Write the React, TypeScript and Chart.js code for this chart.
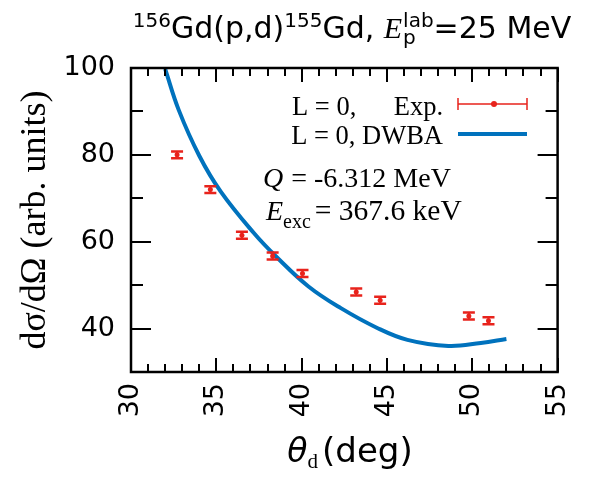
import React, { useEffect, useRef } from "react";
import { Chart, registerables } from "chart.js";

Chart.register(...registerables);

// ---- data ----
const thetaExp = [32.7, 34.65, 36.5, 38.3, 40.05, 43.2, 44.6, 49.8, 50.95];
const sigmaExp = [80.0, 72.0, 61.5, 56.7, 52.7, 48.4, 46.5, 42.9, 41.8];
const sigmaErr = [0.8, 0.8, 0.8, 0.8, 0.8, 0.8, 0.8, 0.8, 0.8];

const thetaDwba = [32.0, 32.8, 34.0, 35.25, 37.2, 38.5, 40.4, 42.3, 44.4, 46.2, 48.6, 50.5, 52.0];
const sigmaDwba = [99.8, 90.3, 79.8, 71.6, 62.0, 56.6, 49.7, 44.7, 40.2, 37.4, 36.0, 36.7, 37.6];

const xMajorTicks = [30, 35, 40, 45, 50, 55];
const yMajorTicks = [40, 60, 80, 100];
const yMinorTicks = [50, 70, 90];

const RED = "#e8231c";
const BLUE = "#0072bd";
const SANS = "'DejaVu Sans'";
const SERIF = "'Liberation Serif'";

type Part = { t: string; f: string; dy?: number; gap?: number; noAdv?: boolean };

function drawParts(ctx: CanvasRenderingContext2D, parts: Part[], x: number, y: number, align: string) {
  let total = 0;
  const widths: number[] = [];
  for (const p of parts) {
    ctx.font = p.f;
    const w = ctx.measureText(p.t).width;
    widths.push(w);
    if (!p.noAdv) total += w + (p.gap || 0);
  }
  let cx = align === "center" ? x - total / 2 : align === "right" ? x - total : x;
  ctx.textAlign = "left";
  ctx.textBaseline = "alphabetic";
  parts.forEach((p, i) => {
    ctx.font = p.f;
    ctx.fillText(p.t, cx, y + (p.dy || 0));
    if (!p.noAdv) cx += widths[i] + (p.gap || 0);
  });
}

const errorBarPlugin = {
  id: "errorBars",
  afterDatasetsDraw(chart: any) {
    const ctx = chart.ctx;
    const xs = chart.scales.x;
    const ys = chart.scales.y;
    ctx.save();
    ctx.strokeStyle = RED;
    thetaExp.forEach((t, i) => {
      const px = xs.getPixelForValue(t);
      const yTop = ys.getPixelForValue(sigmaExp[i] + sigmaErr[i]);
      const yBot = ys.getPixelForValue(sigmaExp[i] - sigmaErr[i]);
      ctx.lineWidth = 2;
      ctx.beginPath();
      ctx.moveTo(px, yTop);
      ctx.lineTo(px, yBot);
      ctx.stroke();
      ctx.lineWidth = 2.5;
      ctx.beginPath();
      ctx.moveTo(px - 6, yTop);
      ctx.lineTo(px + 6, yTop);
      ctx.moveTo(px - 6, yBot);
      ctx.lineTo(px + 6, yBot);
      ctx.stroke();
    });
    ctx.restore();
  },
};

const framePlugin = {
  id: "frame",
  afterDraw(chart: any) {
    const ctx = chart.ctx;
    const { left, right, top, bottom } = chart.chartArea;
    const xs = chart.scales.x;
    const ys = chart.scales.y;
    ctx.save();
    ctx.strokeStyle = "#000";
    ctx.lineWidth = 2;
    ctx.beginPath();
    for (let v = 30; v <= 55; v += 1) {
      const px = Math.round(xs.getPixelForValue(v));
      const len = xMajorTicks.includes(v) ? 14 : 8;
      ctx.moveTo(px, bottom);
      ctx.lineTo(px, bottom - len);
      ctx.moveTo(px, top);
      ctx.lineTo(px, top + len);
    }
    [...yMajorTicks, ...yMinorTicks].forEach((v) => {
      const py = Math.round(ys.getPixelForValue(v));
      const len = yMajorTicks.includes(v) ? 20 : 12;
      ctx.moveTo(left, py);
      ctx.lineTo(left + len, py);
      ctx.moveTo(right, py);
      ctx.lineTo(right - len, py);
    });
    ctx.stroke();
    ctx.lineWidth = 2.5;
    ctx.strokeRect(left, top, right - left, bottom - top);

    // texts
    ctx.fillStyle = "#000";
    // title
    drawParts(
      ctx,
      [
        { t: "156", f: `20px ${SANS}`, dy: -11 },
        { t: "Gd(p,d)", f: `30px ${SANS}` },
        { t: "155", f: `20px ${SANS}`, dy: -11 },
        { t: "Gd, ", f: `30px ${SANS}` },
        { t: "E", f: `italic 30px ${SERIF}`, gap: 1 },
        { t: "p", f: `20px ${SANS}`, dy: 6, noAdv: true },
        { t: "lab", f: `20px ${SANS}`, dy: -11 },
        { t: "=25 MeV", f: `30px ${SANS}` },
      ],
      352,
      38,
      "center"
    );
    // x title
    drawParts(
      ctx,
      [
        { t: "θ", f: `italic 33px ${SANS}` },
        { t: "d", f: `21px ${SERIF}`, dy: 6, gap: 4 },
        { t: "(deg)", f: `34px ${SANS}` },
      ],
      350,
      462,
      "center"
    );
    // y title
    ctx.save();
    ctx.translate(45, (top + bottom) / 2);
    ctx.rotate(-Math.PI / 2);
    ctx.font = `36px ${SERIF}`;
    ctx.textAlign = "center";
    ctx.textBaseline = "alphabetic";
    ctx.fillText("dσ/dΩ (arb. units)", 0, 0);
    ctx.restore();

    // legend
    ctx.font = `26.5px ${SERIF}`;
    ctx.textAlign = "left";
    ctx.fillText("L = 0,", 292, 115);
    ctx.textAlign = "right";
    ctx.fillText("Exp.", 443, 115);
    ctx.fillText("L = 0, DWBA", 443, 144);
    // legend samples
    ctx.strokeStyle = RED;
    ctx.lineWidth = 1.5;
    ctx.beginPath();
    ctx.moveTo(458, 104);
    ctx.lineTo(527, 104);
    ctx.moveTo(458, 98);
    ctx.lineTo(458, 110);
    ctx.moveTo(527, 98);
    ctx.lineTo(527, 110);
    ctx.stroke();
    ctx.fillStyle = RED;
    ctx.beginPath();
    ctx.arc(494, 104, 3, 0, Math.PI * 2);
    ctx.fill();
    ctx.strokeStyle = BLUE;
    ctx.lineWidth = 4;
    ctx.beginPath();
    ctx.moveTo(458, 134);
    ctx.lineTo(527, 134);
    ctx.stroke();

    // annotations
    ctx.fillStyle = "#000";
    drawParts(
      ctx,
      [
        { t: "Q", f: `italic 28px ${SERIF}`, gap: 8 },
        { t: "= -6.312 MeV", f: `28px ${SERIF}` },
      ],
      263,
      187,
      "left"
    );
    drawParts(
      ctx,
      [
        { t: "E", f: `italic 28px ${SERIF}` },
        { t: "exc", f: `20px ${SERIF}`, dy: 8, gap: 4 },
        { t: "= 367.6 keV", f: `29.5px ${SERIF}` },
      ],
      266,
      220,
      "left"
    );
    ctx.restore();
  },
};

export default function App() {
  const ref = useRef<HTMLCanvasElement | null>(null);
  useEffect(() => {
    if (!ref.current) return;
    const chart = new Chart(ref.current, {
      type: "scatter",
      data: {
        datasets: [
          {
            label: "L = 0, DWBA",
            data: thetaDwba.map((x, i) => ({ x, y: sigmaDwba[i] })),
            showLine: true,
            borderColor: BLUE,
            borderWidth: 4,
            pointRadius: 0,
            tension: 0.4,
            order: 2,
          } as any,
          {
            label: "L = 0, Exp.",
            data: thetaExp.map((x, i) => ({ x, y: sigmaExp[i] })),
            pointRadius: 2.5,
            pointBorderWidth: 0,
            backgroundColor: RED,
            borderColor: RED,
            order: 1,
          } as any,
        ],
      },
      options: {
        animation: false,
        responsive: false,
        devicePixelRatio: 1,
        layout: { padding: { left: 0, top: 68, right: 33, bottom: 0 } },
        plugins: { legend: { display: false }, tooltip: { enabled: false } },
        scales: {
          x: {
            type: "linear",
            min: 30,
            max: 55,
            grid: { display: false, drawTicks: false },
            border: { display: false },
            ticks: {
              font: { family: "DejaVu Sans", size: 27 },
              color: "#000",
              maxRotation: 90,
              minRotation: 90,
              padding: 11,
            },
            afterBuildTicks: (s: any) => {
              s.ticks = xMajorTicks.map((v) => ({ value: v }));
            },
            afterFit: (s: any) => {
              s.height = 106;
            },
          },
          y: {
            type: "linear",
            min: 30,
            max: 100,
            grid: { display: false, drawTicks: false },
            border: { display: false },
            ticks: {
              font: { family: "DejaVu Sans", size: 27 },
              color: "#000",
              padding: 16,
            },
            afterBuildTicks: (s: any) => {
              s.ticks = yMajorTicks.map((v) => ({ value: v }));
            },
            afterFit: (s: any) => {
              s.width = 131;
            },
          },
        },
      },
      plugins: [errorBarPlugin, framePlugin],
    });
    return () => chart.destroy();
  }, []);
  return (
    <div style={{ position: "fixed", left: 0, top: 0, width: 601, height: 478, background: "#fff" }}>
      <canvas ref={ref} width={601} height={478} style={{ display: "block" }} />
    </div>
  );
}
